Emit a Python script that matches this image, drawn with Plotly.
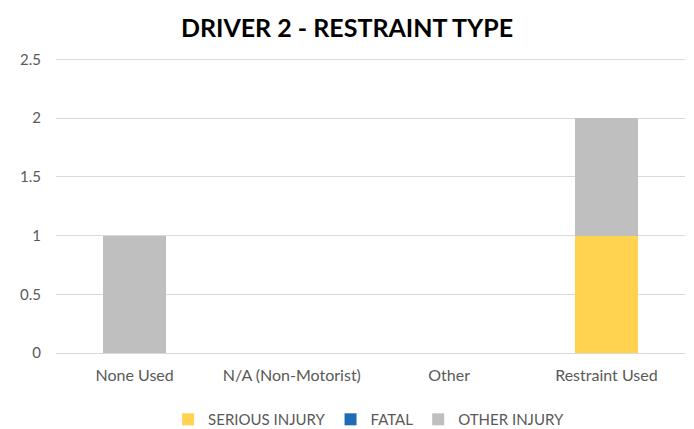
import plotly.graph_objects as go

categories = ["None Used", "N/A (Non-Motorist)", "Other", "Restraint Used"]
serious_injury = [0, 0, 0, 1]
fatal = [0, 0, 0, 0]
other_injury = [1, 0, 0, 1]
y_ticks = [0, 0.5, 1, 1.5, 2, 2.5]
y_tick_text = ["0", "0.5", "1", "1.5", "2", "2.5"]

FONT = "Lato, Carlito, Calibri, sans-serif"

fig = go.Figure()
fig.add_bar(x=categories, y=serious_injury, name="SERIOUS INJURY", marker_color="#FFD34F")
fig.add_bar(x=categories, y=fatal, name="FATAL", marker_color="#1F6BB5")
fig.add_bar(x=categories, y=other_injury, name="OTHER INJURY", marker_color="#BFBFBF")

fig.update_traces(marker_line_width=0)

fig.update_layout(
    barmode="stack",
    bargap=0.6,
    width=694, height=429,
    margin=dict(l=56, r=9, t=57, b=76, autoexpand=False),
    paper_bgcolor="white", plot_bgcolor="white",
    font=dict(family=FONT, size=14, color="#595959"),
    title=dict(text="<b>DRIVER 2 - RESTRAINT TYPE</b>", x=0.5, xanchor="center",
               y=0.935, yanchor="middle",
               font=dict(family=FONT, size=25, color="#000000")),
    legend=dict(orientation="h", x=0.497, xanchor="center",
                yref="container", y=0.022, yanchor="middle",
                font=dict(size=15, color="#595959"), itemwidth=30, traceorder="normal"),
    xaxis=dict(showgrid=False, showline=True, linecolor="#D9D9D9", linewidth=1,
               ticks="", ticklabelstandoff=8, tickfont=dict(size=16, color="#595959")),
    yaxis=dict(range=[0, 2.52], tickvals=y_ticks, ticktext=y_tick_text,
               showgrid=True, gridcolor="#D9D9D9", gridwidth=1, zeroline=False,
               showline=False, ticks="", ticklabelstandoff=14,
               tickfont=dict(size=15, color="#595959")),
)

fig.write_html("out.html", config={"displayModeBar": False},
               post_script="document.body.style.margin='0';")
